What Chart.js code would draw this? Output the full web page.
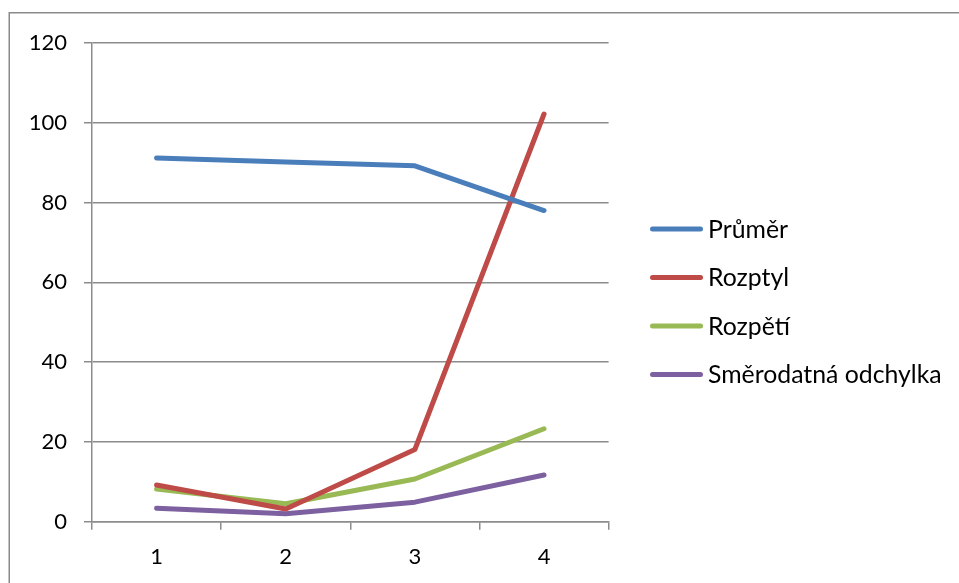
<!DOCTYPE html>
<html>
<head>
<meta charset="utf-8">
<script src="https://cdn.jsdelivr.net/npm/chart.js@4/dist/chart.umd.min.js"></script>
<style>
  html, body { margin: 0; padding: 0; background: #ffffff; }
  #wrap { width: 959px; height: 583px; position: relative; }
</style>
</head>
<body>
<div id="wrap"><canvas id="chart" width="959" height="583"></canvas></div>
<script>
// Categories and series values
const categories = ['1', '2', '3', '4'];
const seriesNames = ['Průměr', 'Rozptyl', 'Rozpětí', 'Směrodatná odchylka'];
const prumer = [91.2, 90.2, 89.2, 78.0];
const rozptyl = [9.2, 3.2, 18.1, 102.2];
const rozpeti = [8.2, 4.5, 10.7, 23.3];
const smerodatnaOdchylka = [3.4, 2.0, 4.9, 11.7];
const seriesColors = ['#4A7EBB', '#BE4B48', '#98B954', '#7D60A0'];

// Value axis ticks
const yMin = 0;
const yMax = 120;
const yStep = 20;

const FONT = 'Lato';
const FONT_SIZE = 22;
const LEGEND_FONT_SIZE = 24.8;
const GRID = '#8c8c8c';
const LINE_W = 5;

const values = [prumer, rozptyl, rozpeti, smerodatnaOdchylka];
const datasets = seriesNames.map((name, i) => ({
  label: name,
  data: values[i],
  borderColor: seriesColors[i],
  backgroundColor: seriesColors[i],
  borderWidth: LINE_W,
  borderCapStyle: 'round',
  borderJoinStyle: 'round',
  pointRadius: 0,
  pointHoverRadius: 0,
  tension: 0,
  fill: false
}));

// outer frame of the chart
const framePlugin = {
  id: 'frame',
  beforeDraw(chart) {
    const ctx = chart.ctx;
    ctx.save();
    ctx.fillStyle = '#ffffff';
    ctx.fillRect(0, 0, chart.width, chart.height);
    ctx.strokeStyle = '#8a8a8a';
    ctx.lineWidth = 1.5;
    ctx.strokeRect(9.25, 12.75, 2000, 2000);
    ctx.restore();
  }
};

// legend column to the right of the plot: line sample + series name
const sideLegend = {
  id: 'sideLegend',
  afterDraw(chart, args, opts) {
    const ctx = chart.ctx;
    ctx.save();
    ctx.font = LEGEND_FONT_SIZE + 'px ' + FONT;
    ctx.textBaseline = 'middle';
    ctx.textAlign = 'left';
    chart.data.datasets.forEach((ds, i) => {
      const y = opts.top + i * opts.step;
      ctx.strokeStyle = ds.borderColor;
      ctx.lineWidth = ds.borderWidth;
      ctx.lineCap = 'round';
      ctx.beginPath();
      ctx.moveTo(opts.left, y);
      ctx.lineTo(opts.left + opts.sample, y);
      ctx.stroke();
      ctx.fillStyle = '#000000';
      ctx.fillText(ds.label, opts.textX, y + 1);
    });
    ctx.restore();
  }
};

Chart.defaults.font.family = FONT;
Chart.defaults.font.size = FONT_SIZE;
Chart.defaults.color = '#000000';

new Chart(document.getElementById('chart'), {
  type: 'line',
  data: { labels: categories, datasets },
  plugins: [framePlugin, sideLegend],
  options: {
    responsive: false,
    animation: false,
    devicePixelRatio: 1,
    layout: { padding: { top: 43, left: 0, right: 350.4, bottom: 0 } },
    plugins: {
      tooltip: { enabled: false },
      legend: { display: false },
      sideLegend: { left: 652.5, sample: 48, textX: 708, top: 229, step: 48.5 }
    },
    scales: {
      x: {
        offset: true,
        grid: {
          display: true,
          offset: true,
          drawOnChartArea: false,
          drawTicks: true,
          tickLength: 8,
          color: GRID,
          lineWidth: 1.5
        },
        border: { display: true, color: GRID, width: 1.5 },
        ticks: { padding: 14, color: '#000000', font: { family: FONT, size: FONT_SIZE } },
        afterFit(s) { s.height = 61.3; }
      },
      y: {
        min: yMin,
        max: yMax,
        ticks: { stepSize: yStep, padding: 17, color: '#000000', font: { family: FONT, size: FONT_SIZE } },
        grid: { color: GRID, lineWidth: 1.5, tickLength: 8, drawTicks: true },
        border: { display: true, color: GRID, width: 1.5 },
        afterFit(s) { s.width = 92; }
      }
    }
  }
});
</script>
</body>
</html>
